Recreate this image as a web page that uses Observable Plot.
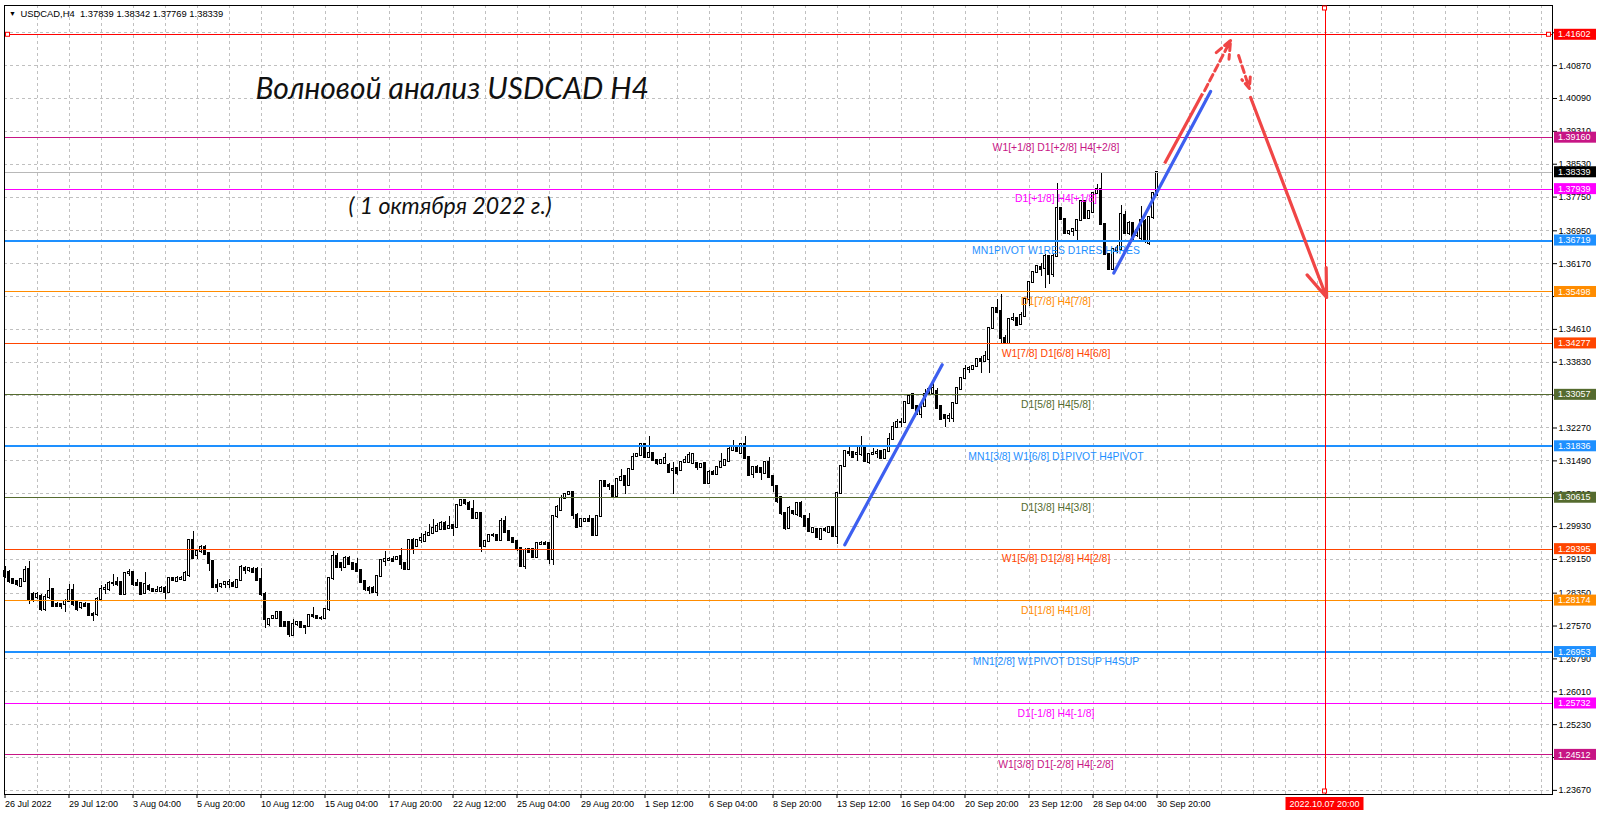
<!DOCTYPE html>
<html><head><meta charset="utf-8">
<script src="https://cdn.jsdelivr.net/npm/d3@7"></script>
<script src="https://cdn.jsdelivr.net/npm/@observablehq/plot@0.6"></script>
<style>
html,body{margin:0;padding:0;background:#fff;}
#chart{width:1600px;height:817px;overflow:hidden;}
</style></head><body><div id="chart"></div>
<script>
// ---------------- DATA ----------------
// USDCAD H4 candles, bar 0 = 26 Jul 2022 20:00 ... bar 288 = 30 Sep 2022 20:00
const opens = [
1.2887,1.2884,1.2867,1.2863,1.2851,1.2863,1.2891,1.2832,1.2824,1.2828,
1.2796,1.2824,1.2843,1.2808,1.2808,1.2808,1.2816,1.2842,1.2812,1.2802,
1.2808,1.2808,1.2784,1.2784,1.2821,1.2843,1.2843,1.2857,1.2861,1.2861,
1.2833,1.2881,1.2884,1.2858,1.2858,1.2834,1.2851,1.2843,1.2839,1.2839,
1.2847,1.2836,1.2869,1.2863,1.2867,1.2865,1.2876,1.2960,1.2924,1.2934,
1.2944,1.2930,1.2910,1.2853,1.2850,1.2855,1.2855,1.2859,1.2849,1.2864,
1.2893,1.2889,1.2891,1.2891,1.2867,1.2832,1.2761,1.2776,1.2776,1.2788,
1.2765,1.2765,1.2735,1.2761,1.2766,1.2755,1.2755,1.2782,1.2780,1.2774,
1.2774,1.2796,1.2869,1.2921,1.2906,1.2895,1.2918,1.2905,1.2902,1.2889,
1.2863,1.2847,1.2847,1.2836,1.2875,1.2910,1.2913,1.2916,1.2914,1.2922,
1.2905,1.2891,1.2961,1.2946,1.2961,1.2957,1.2973,1.2977,1.2981,1.2985,
1.3001,1.2989,1.2996,1.2991,1.3044,1.3054,1.3049,1.3034,1.3013,1.3024,
1.2946,1.2957,1.2971,1.2973,1.2961,1.3006,1.2981,1.2965,1.2957,1.2942,
1.2899,1.2938,1.2938,1.2920,1.2950,1.2954,1.2952,1.2914,1.3016,1.3032,
1.3059,1.3070,1.3073,1.3020,1.2993,1.3005,1.3009,1.3009,1.2971,1.3016,
1.3099,1.3091,1.3087,1.3065,1.3103,1.3111,1.3091,1.3128,1.3159,1.3162,
1.3189,1.3156,1.3167,1.3151,1.3142,1.3142,1.3138,1.3125,1.3130,1.3126,
1.3146,1.3146,1.3142,1.3143,1.3133,1.3143,1.3095,1.3122,1.3117,1.3134,
1.3138,1.3148,1.3173,1.3183,1.3167,1.3189,1.3156,1.3117,1.3134,1.3130,
1.3118,1.3146,1.3112,1.3089,1.3062,1.3023,1.2989,1.3028,1.3022,1.3048,
1.3017,1.3009,1.2979,1.2986,1.2962,1.2987,1.2979,1.2991,1.2969,1.3072,
1.3136,1.3169,1.3169,1.3163,1.3163,1.3183,1.3144,1.3163,1.3166,1.3171,
1.3155,1.3171,1.3199,1.3227,1.3239,1.3239,1.3286,1.3306,1.3278,1.3258,
1.3278,1.3310,1.3310,1.3314,1.3278,1.3256,1.3250,1.3250,1.3286,1.3318,
1.3345,1.3365,1.3365,1.3373,1.3389,1.3385,1.3389,1.3464,1.3511,1.3503,
1.3440,1.3428,1.3484,1.3488,1.3472,1.3492,1.3531,1.3572,1.3595,1.3609,
1.3606,1.3634,1.3591,1.3634,1.3749,1.3721,1.3688,1.3693,1.3696,1.3720,
1.3765,1.3725,1.3739,1.3783,1.3792,1.3709,1.3638,1.3604,1.3649,1.3650,
1.3732,1.3688,1.3712,1.3684,1.3676,1.3716,1.3664,1.3726,1.37839];
const highs = [
1.2899,1.2889,1.2869,1.2865,1.2869,1.2899,1.2910,1.2836,1.2836,1.2832,
1.2832,1.2869,1.2847,1.2812,1.2810,1.2820,1.2855,1.2855,1.2816,1.2812,
1.2812,1.2810,1.2788,1.2824,1.2853,1.2855,1.2863,1.2879,1.2873,1.2863,
1.2884,1.2891,1.2887,1.2867,1.2861,1.2883,1.2855,1.2847,1.2850,1.2851,
1.2850,1.2871,1.2873,1.2875,1.2875,1.2887,1.2962,1.2981,1.2937,1.2947,
1.2947,1.2932,1.2913,1.2867,1.2859,1.2863,1.2867,1.2862,1.2867,1.2900,
1.2899,1.2895,1.2895,1.2895,1.2893,1.2836,1.2776,1.2782,1.2790,1.2790,
1.2768,1.2768,1.2772,1.2768,1.2768,1.2757,1.2784,1.2802,1.2782,1.2779,
1.2799,1.2871,1.2934,1.2930,1.2908,1.2921,1.2921,1.2908,1.2918,1.2891,
1.2865,1.2851,1.2850,1.2878,1.2916,1.2934,1.2919,1.2921,1.2923,1.2942,
1.2908,1.2963,1.2965,1.2963,1.2977,1.2981,1.2999,1.3009,1.3001,1.3004,
1.3004,1.3016,1.2999,1.3046,1.3057,1.3057,1.3052,1.3056,1.3026,1.3026,
1.2960,1.2973,1.2977,1.2975,1.3013,1.3016,1.2983,1.2967,1.2960,1.2944,
1.2940,1.2942,1.2942,1.2954,1.2957,1.2957,1.2955,1.3018,1.3044,1.3067,
1.3072,1.3076,1.3075,1.3023,1.3011,1.3013,1.3020,1.3011,1.3018,1.3102,
1.3101,1.3096,1.3089,1.3107,1.3128,1.3113,1.3130,1.3166,1.3167,1.3191,
1.3191,1.3207,1.3169,1.3153,1.3153,1.3167,1.3143,1.3146,1.3133,1.3148,
1.3159,1.3169,1.3166,1.3146,1.3142,1.3146,1.3125,1.3126,1.3136,1.3167,
1.3152,1.3181,1.3197,1.3185,1.3191,1.3206,1.3158,1.3136,1.3138,1.3133,
1.3148,1.3156,1.3115,1.3091,1.3065,1.3024,1.3040,1.3032,1.3050,1.3052,
1.3020,1.3025,1.2991,1.2989,1.2989,1.2991,1.2993,1.2993,1.3074,1.3138,
1.3173,1.3182,1.3171,1.3183,1.3207,1.3185,1.3165,1.3179,1.3177,1.3173,
1.3176,1.3213,1.3240,1.3248,1.3250,1.3290,1.3304,1.3308,1.3280,1.3280,
1.3318,1.3321,1.3333,1.3321,1.3280,1.3258,1.3262,1.3288,1.3323,1.3347,
1.3375,1.3373,1.3375,1.3391,1.3397,1.3409,1.3466,1.3513,1.3531,1.3543,
1.3446,1.3486,1.3498,1.3490,1.3500,1.3533,1.3574,1.3597,1.3612,1.3618,
1.3638,1.3636,1.3638,1.3808,1.3751,1.3724,1.3696,1.3699,1.3722,1.3767,
1.3767,1.3743,1.3786,1.3804,1.3833,1.3711,1.3640,1.3652,1.3660,1.3755,
1.3741,1.3716,1.3714,1.3700,1.3753,1.3722,1.3730,1.3786,1.38342];
const lows = [
1.2871,1.2859,1.2855,1.2851,1.2849,1.2861,1.2808,1.2812,1.2820,1.2792,
1.2792,1.2820,1.2800,1.2800,1.2796,1.2788,1.2812,1.2804,1.2792,1.2796,
1.2800,1.2779,1.2768,1.2780,1.2818,1.2832,1.2839,1.2851,1.2851,1.2832,
1.2832,1.2875,1.2851,1.2850,1.2832,1.2832,1.2839,1.2836,1.2836,1.2836,
1.2820,1.2834,1.2862,1.2861,1.2865,1.2863,1.2873,1.2916,1.2914,1.2930,
1.2924,1.2887,1.2847,1.2837,1.2847,1.2847,1.2845,1.2849,1.2847,1.2862,
1.2879,1.2885,1.2881,1.2862,1.2828,1.2750,1.2757,1.2772,1.2774,1.2755,
1.2753,1.2729,1.2733,1.2757,1.2750,1.2737,1.2753,1.2776,1.2772,1.2770,
1.2772,1.2792,1.2865,1.2893,1.2887,1.2893,1.2900,1.2889,1.2884,1.2858,
1.2840,1.2832,1.2834,1.2828,1.2873,1.2899,1.2910,1.2907,1.2912,1.2891,
1.2889,1.2889,1.2926,1.2943,1.2954,1.2955,1.2969,1.2975,1.2979,1.2983,
1.2985,1.2985,1.2969,1.2989,1.3042,1.3042,1.3032,1.3010,1.3010,1.2932,
1.2943,1.2955,1.2968,1.2957,1.2959,1.2977,1.2959,1.2952,1.2935,1.2895,
1.2892,1.2930,1.2918,1.2918,1.2947,1.2947,1.2902,1.2900,1.3013,1.3030,
1.3057,1.3066,1.3009,1.2989,1.2991,1.3003,1.3003,1.2969,1.2969,1.3014,
1.3087,1.3079,1.3062,1.3062,1.3101,1.3070,1.3089,1.3126,1.3156,1.3160,
1.3154,1.3154,1.3149,1.3138,1.3140,1.3140,1.3120,1.3070,1.3115,1.3124,
1.3143,1.3143,1.3140,1.3126,1.3130,1.3093,1.3093,1.3115,1.3115,1.3130,
1.3136,1.3146,1.3171,1.3170,1.3165,1.3152,1.3112,1.3107,1.3120,1.3103,
1.3116,1.3107,1.3073,1.3049,1.3020,1.2983,1.2987,1.3020,1.3018,1.3013,
1.2990,1.2979,1.2977,1.2964,1.2960,1.2980,1.2977,1.2967,1.2950,1.3070,
1.3134,1.3159,1.3156,1.3148,1.3160,1.3144,1.3140,1.3161,1.3155,1.3153,
1.3153,1.3169,1.3197,1.3225,1.3227,1.3237,1.3284,1.3272,1.3256,1.3250,
1.3276,1.3308,1.3308,1.3272,1.3246,1.3227,1.3239,1.3239,1.3284,1.3316,
1.3343,1.3357,1.3363,1.3371,1.3357,1.3383,1.3357,1.3462,1.3498,1.3428,
1.3426,1.3424,1.3480,1.3468,1.3470,1.3490,1.3516,1.3570,1.3593,1.3587,
1.3559,1.3567,1.3585,1.3632,1.3719,1.3686,1.3685,1.3681,1.3670,1.3717,
1.3723,1.3721,1.3737,1.3781,1.3707,1.3636,1.3602,1.3602,1.3640,1.3648,
1.3686,1.3684,1.3668,1.3680,1.3672,1.3664,1.3660,1.3722,1.37769];
const closes = [
1.2875,1.2863,1.2859,1.2855,1.2867,1.2889,1.2820,1.2820,1.2832,1.2796,
1.2824,1.2839,1.2804,1.2804,1.2804,1.2816,1.2842,1.2808,1.2796,1.2810,
1.2804,1.2782,1.2782,1.2821,1.2843,1.2845,1.2857,1.2859,1.2855,1.2833,
1.2881,1.2884,1.2855,1.2853,1.2833,1.2855,1.2843,1.2839,1.2842,1.2847,
1.2836,1.2869,1.2865,1.2871,1.2871,1.2881,1.2960,1.2918,1.2934,1.2944,
1.2926,1.2906,1.2849,1.2849,1.2855,1.2861,1.2861,1.2851,1.2864,1.2895,
1.2889,1.2893,1.2884,1.2865,1.2832,1.2772,1.2772,1.2779,1.2788,1.2757,
1.2755,1.2737,1.2761,1.2765,1.2753,1.2753,1.2782,1.2780,1.2774,1.2776,
1.2796,1.2869,1.2921,1.2895,1.2895,1.2918,1.2902,1.2891,1.2887,1.2861,
1.2843,1.2842,1.2837,1.2875,1.2913,1.2916,1.2916,1.2910,1.2920,1.2902,
1.2892,1.2961,1.2942,1.2961,1.2965,1.2973,1.2977,1.2989,1.2993,1.3001,
1.2987,1.2994,1.2989,1.3044,1.3056,1.3049,1.3034,1.3013,1.3024,1.2946,
1.2957,1.2971,1.2973,1.2960,1.3005,1.2979,1.2961,1.2955,1.2938,1.2899,
1.2936,1.2932,1.2920,1.2952,1.2954,1.2950,1.2914,1.3016,1.3038,1.3059,
1.3070,1.3073,1.3020,1.2991,1.3009,1.3010,1.3005,1.2971,1.3016,1.3100,
1.3089,1.3087,1.3065,1.3105,1.3109,1.3091,1.3128,1.3158,1.3164,1.3189,
1.3156,1.3167,1.3151,1.3142,1.3150,1.3154,1.3122,1.3128,1.3118,1.3146,
1.3150,1.3162,1.3164,1.3134,1.3140,1.3095,1.3122,1.3117,1.3134,1.3146,
1.3150,1.3175,1.3183,1.3172,1.3189,1.3154,1.3115,1.3134,1.3122,1.3122,
1.3146,1.3109,1.3091,1.3052,1.3023,1.2989,1.3036,1.3024,1.3048,1.3017,
1.2993,1.2981,1.2989,1.2966,1.2987,1.2984,1.2991,1.2969,1.3072,1.3136,
1.3171,1.3166,1.3158,1.3167,1.3183,1.3148,1.3163,1.3167,1.3169,1.3155,
1.3174,1.3199,1.3227,1.3239,1.3240,1.3288,1.3302,1.3274,1.3258,1.3278,
1.3306,1.3318,1.3321,1.3274,1.3248,1.3250,1.3254,1.3286,1.3321,1.3345,
1.3365,1.3369,1.3373,1.3389,1.3385,1.3397,1.3464,1.3511,1.3500,1.3440,
1.3430,1.3484,1.3486,1.3470,1.3494,1.3531,1.3572,1.3595,1.3610,1.3604,
1.3634,1.3591,1.3634,1.3749,1.3721,1.3688,1.3693,1.3697,1.3720,1.3765,
1.3725,1.3741,1.3784,1.3792,1.3709,1.3638,1.3604,1.3650,1.3653,1.3733,
1.3688,1.3712,1.3672,1.3696,1.3720,1.3672,1.3726,1.3783,1.38339];

const dateTickBars = [0,16,32,48,64,80,96,112,128,144,160,176,192,208,224,240,256,272,288];
const dateTickLabels = ["26 Jul 2022","29 Jul 12:00","3 Aug 04:00","5 Aug 20:00","10 Aug 12:00",
  "15 Aug 04:00","17 Aug 20:00","22 Aug 12:00","25 Aug 04:00","29 Aug 20:00","1 Sep 12:00",
  "6 Sep 04:00","8 Sep 20:00","13 Sep 12:00","16 Sep 04:00","20 Sep 20:00","23 Sep 12:00",
  "28 Sep 04:00","30 Sep 20:00"];
// price grid; labels of the three ticks fully hidden behind level boxes are not shown
const priceTicks = [1.41650,1.40870,1.40090,1.39310,1.38530,1.37750,1.36950,1.36170,1.35390,
  1.34610,1.33830,1.33050,1.32270,1.31490,1.30710,1.29930,1.29150,1.28350,1.27570,1.26790,
  1.26010,1.25230,1.24450,1.23670];
const hiddenTickLabels = [1.41650, 1.35390, 1.33050];

// Murrey math levels
const levelValues = [1.41602,1.39160,1.37939,1.36719,1.35498,1.34277,1.33057,1.31836,
  1.30615,1.29395,1.28174,1.26953,1.25732,1.24512];
const levelLabels = ["","W1[+1/8] D1[+2/8] H4[+2/8]","D1[+1/8] H4[+1/8]","MN1PIVOT W1RES D1RES H4RES",
  "D1[7/8] H4[7/8]","W1[7/8] D1[6/8] H4[6/8]","D1[5/8] H4[5/8]","MN1[3/8] W1[6/8] D1PIVOT H4PIVOT",
  "D1[3/8] H4[3/8]","W1[5/8] D1[2/8] H4[2/8]","D1[1/8] H4[1/8]","MN1[2/8] W1PIVOT D1SUP H4SUP",
  "D1[-1/8] H4[-1/8]","W1[3/8] D1[-2/8] H4[-2/8]"];
const bidPrice = 1.38339;
const headerText = "USDCAD,H4  1.37839 1.38342 1.37769 1.38339";
const titleText = "Волновой анализ USDCAD H4";
const subtitleText = "( 1 октября 2022 г.)";
const futureBar = 330;
const futureLabel = "2022.10.07 20:00";
const levelLabelBar = 262.75;

// hand-drawn wave annotations (bar index, price)
const blueTrends = [
  {x1: 209.95, y1: 1.29498, x2: 234.3, y2: 1.33770},
  {x1: 277.2, y1: 1.35949, x2: 301.4, y2: 1.40256}];
const redLinks = [{x1: 289.9, y1: 1.38548, x2: 299.4, y2: 1.40209}];
const redDashArrows = [
  {x1: 299.9, y1: 1.40278, x2: 306.4, y2: 1.41467},
  {x1: 308.4, y1: 1.41111, x2: 311.1, y2: 1.40328}];
const redArrows = [{x1: 311.4, y1: 1.40114, x2: 330.4, y2: 1.35368}];

// ---------------- STYLE ----------------
const BLUE = "#1E90FF";
const levelColors = ["#FF0000","#C71585","#FF00FF",BLUE,"#FF8C00","#FF4500","#556B2F",BLUE,
  "#556B2F","#FF4500","#FF8C00",BLUE,"#FF00FF","#C71585"];
const FONT = "'Liberation Sans', Arial, sans-serif";

(function () {
const bars = opens.map((o, i) => ({i, open: o, high: highs[i], low: lows[i], close: closes[i]}));
const levels = levelValues.map((v, k) => ({k, value: v}));
const gridBars = d3.range(8, 387, 8);

const svg = Plot.plot({
  width: 1600, height: 817,
  marginLeft: 4, marginRight: 48, marginTop: 5, marginBottom: 23,
  x: {type: "linear", domain: [-0.125, 386.875], axis: null},
  y: {type: "linear", domain: [1.23572, 1.42297], axis: null},
  color: {type: "identity"},
  style: {fontFamily: FONT, fontSize: "9px", background: "white", color: "black", overflow: "visible"},
  marks: [
    Plot.ruleY(priceTicks, {stroke: "#c0c0c0", strokeDasharray: "3,3", shapeRendering: "crispEdges"}),
    Plot.ruleX(gridBars, {stroke: "#c0c0c0", strokeDasharray: "3,3", shapeRendering: "crispEdges"}),
    Plot.ruleX(bars, {x: "i", y1: "low", y2: "high", stroke: "black", strokeWidth: 1, shapeRendering: "crispEdges"}),
    Plot.rect(bars, {x1: d => d.i - 0.25, x2: d => d.i + 0.25, y1: "open", y2: "close",
      fill: d => d.close >= d.open ? "white" : "black", stroke: "black", strokeWidth: 1,
      insetTop: -0.5, insetBottom: -0.5, shapeRendering: "crispEdges"}),
    Plot.ruleY([bidPrice], {stroke: "#b8b8b8", shapeRendering: "crispEdges"}),
    Plot.ruleY(levels, {y: "value", stroke: d => levelColors[d.k],
      strokeWidth: d => levelColors[d.k] === BLUE ? 2 : 1, shapeRendering: "crispEdges"}),
    Plot.text(levels.filter(d => levelLabels[d.k]), {x: () => levelLabelBar, y: "value",
      text: d => levelLabels[d.k], fill: d => levelColors[d.k], dy: 10, fontSize: 10.4,
      textAnchor: "middle", fontFamily: FONT}),
    Plot.ruleX([futureBar], {stroke: "#FF0000", shapeRendering: "crispEdges"}),
    Plot.link(blueTrends, {x1: "x1", y1: "y1", x2: "x2", y2: "y2", stroke: "#3d5ff0",
      strokeWidth: 3.2, strokeLinecap: "round", ariaLabel: "trend"}),
    Plot.link(redLinks, {x1: "x1", y1: "y1", x2: "x2", y2: "y2", stroke: "#f04646",
      strokeWidth: 3.2, ariaLabel: "trend"}),
    Plot.arrow(redDashArrows, {x1: "x1", y1: "y1", x2: "x2", y2: "y2", stroke: "#f04646",
      strokeWidth: 3, strokeDasharray: "7,4", headLength: 12, headAngle: 45, ariaLabel: "trend"}),
    Plot.arrow(redArrows, {x1: "x1", y1: "y1", x2: "x2", y2: "y2", stroke: "#f04646",
      strokeWidth: 3.2, headLength: 14, headAngle: 40, ariaLabel: "trend"}),
    Plot.text([titleText], {frameAnchor: "top-left", text: d => d, dx: 251, dy: 84,
      textAnchor: "start", lineAnchor: "middle", fontSize: 30, fontStyle: "italic",
      fontFamily: "Lato, 'Open Sans', sans-serif", fill: "#111", ariaLabel: "title"}),
    Plot.text([subtitleText], {frameAnchor: "top-left", text: d => d, dx: 344, dy: 201,
      textAnchor: "start", lineAnchor: "middle", fontSize: 23, fontStyle: "italic",
      fontFamily: "Lato, 'Open Sans', sans-serif", fill: "#111", ariaLabel: "subtitle"}),
    Plot.text([headerText], {frameAnchor: "top-left", text: d => d, dx: 16, dy: 8,
      textAnchor: "start", lineAnchor: "middle", fontSize: 9.4, fill: "black", ariaLabel: "header"}),
    Plot.text(["▼"], {frameAnchor: "top-left", text: d => d, dx: 8, dy: 8,
      textAnchor: "middle", lineAnchor: "middle", fontSize: 7, fill: "black"}),
    Plot.axisY({ticks: priceTicks, anchor: "right", tickSize: 4, tickPadding: 2,
      tickFormat: d => hiddenTickLabels.includes(d) ? "" : d.toFixed(5), fontSize: 9, fill: "black", stroke: "black"}),
    Plot.axisX({ticks: dateTickBars, anchor: "bottom", tickSize: 4, tickPadding: 2,
      tickFormat: d => dateTickLabels[dateTickBars.indexOf(d)], textAnchor: "start",
      fontSize: 9, fill: "black", stroke: "black"}),
    Plot.frame({stroke: "black", shapeRendering: "crispEdges"})
  ]
});
document.getElementById("chart").append(svg);

// ---------- overlays positioned through the plot's scales ----------
const xs = svg.scale("x"), ys = svg.scale("y");
const s = d3.select(svg);
const frameLeft = xs.range[0], frameRight = xs.range[1];
const frameBottom = ys.range[0], frameTop = ys.range[1];
const over = s.append("g").attr("text-anchor", "start");
function priceBox(v, c) {
  const yy = ys.apply(v);
  over.append("rect").attr("x", frameRight + 2).attr("y", yy - 5.5).attr("width", 42).attr("height", 11).attr("fill", c);
  over.append("text").attr("x", frameRight + 6).attr("y", yy).attr("dy", "0.35em").attr("fill", "white")
    .attr("text-anchor", "start").style("font", "9px " + FONT).text(v.toFixed(5));
}
levelValues.forEach((v, k) => priceBox(v, levelColors[k]));
priceBox(bidPrice, "black");

const fx = xs.apply(futureBar);
over.append("rect").attr("x", fx - 39).attr("y", frameBottom + 3).attr("width", 78).attr("height", 13).attr("fill", "#FF0000");
over.append("text").attr("x", fx).attr("y", frameBottom + 9.5).attr("dy", "0.35em").attr("text-anchor", "middle")
  .attr("fill", "white").style("font", "9px " + FONT).text(futureLabel);

function sq(px, py) {
  over.append("rect").attr("x", px - 2).attr("y", py - 2).attr("width", 4).attr("height", 4)
    .attr("fill", "white").attr("stroke", "#FF0000").attr("stroke-width", 1);
}
const yRed = ys.apply(levelValues[0]);
sq(frameLeft + 3.5, yRed); sq(frameRight - 3.5, yRed);
sq(fx, frameTop + 3); sq(fx, frameBottom - 3);

s.selectAll('g[aria-label="trend"]').style("filter", "drop-shadow(2px 3px 1.5px rgba(0,0,0,0.35))");
s.selectAll('g[aria-label="title"], g[aria-label="subtitle"]').style("filter", "drop-shadow(3px 4px 2px rgba(0,0,0,0.45))");
s.select('g[aria-label="title"] text').attr("textLength", 487).attr("lengthAdjust", "spacingAndGlyphs");
s.select('g[aria-label="subtitle"] text').attr("textLength", 300).attr("lengthAdjust", "spacingAndGlyphs");
s.select('g[aria-label="header"] text').attr("textLength", 203).attr("lengthAdjust", "spacingAndGlyphs");
})();
</script></body></html>
